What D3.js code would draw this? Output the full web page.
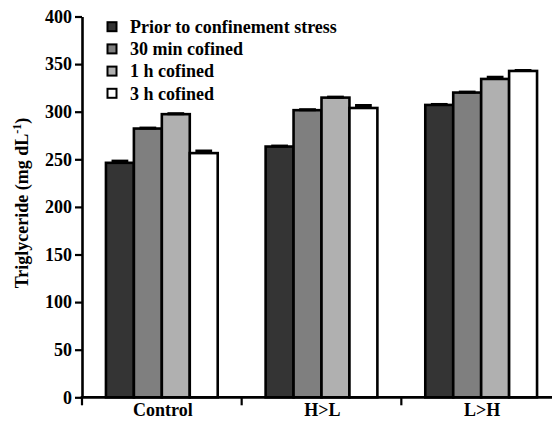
<!DOCTYPE html>
<html>
<head>
<meta charset="utf-8">
<script src="https://cdn.jsdelivr.net/npm/d3@7"></script>
<style>
  html, body { margin: 0; padding: 0; background: #fff; }
  svg { display: block; }
</style>
</head>
<body>
<svg id="chart" width="552" height="423"></svg>
<script>
const groups = ["Control", "H>L", "L>H"];
const seriesNames = ["Prior to confinement stress", "30 min cofined", "1 h cofined", "3 h cofined"];
const seriesColors = ["#343434", "#7f7f7f", "#b0b0b0", "#ffffff"];
const prior = [246.3, 263.4, 307.1];
const min30 = [282.3, 301.6, 320.1];
const h1 = [297.4, 314.8, 334.4];
const h3 = [256.5, 303.9, 342.8];
const errPrior = [1.8, 0.5, 0.5];
const errMin30 = [0.5, 0.5, 0.5];
const errH1 = [0.5, 0.5, 1.8];
const errH3 = [2.2, 2.6, 0.5];
const yTicks = [0, 50, 100, 150, 200, 250, 300, 350, 400];

const values = [prior, min30, h1, h3];
const errors = [errPrior, errMin30, errH1, errH3];

const svg = d3.select("#chart");

function styleText(sel, size) {
  return sel.style("font-family", '"Liberation Serif"')
    .style("font-size", size + "px").style("font-weight", "bold");
}

const x0 = 82, x1 = 561, yBottom = 397.3, yTop = 16.5;
const x = d3.scaleBand().domain(groups).range([x0, x1]).paddingInner(0.3).paddingOuter(0.15);
const xs = d3.scaleBand().domain(d3.range(seriesNames.length)).range([0, x.bandwidth()]).padding(0);
const y = d3.scaleLinear().domain([0, 400]).range([yBottom, yTop]);

// legend
const lg = svg.append("g");
seriesNames.forEach((n, i) => {
  const cy = 26.7 + i * 22.2;
  lg.append("rect").attr("x", 107.5).attr("y", cy - 4.5).attr("width", 9).attr("height", 9)
    .attr("fill", seriesColors[i]).attr("stroke", "#000").attr("stroke-width", 2);
  styleText(lg.append("text").attr("x", 130).attr("y", cy).attr("dy", "0.35em").text(n), 18);
});

// y axis
const yAxis = d3.axisLeft(y).tickValues(yTicks).tickSize(7).tickPadding(3).tickSizeOuter(0);
const ya = svg.append("g").attr("transform", `translate(${x0},0)`).call(yAxis);
ya.select(".domain").attr("stroke", "#000").attr("stroke-width", 2.6);
ya.selectAll(".tick line").attr("stroke", "#000").attr("stroke-width", 2.2);
styleText(ya.selectAll(".tick text"), 18);

// category labels
styleText(svg.append("g").selectAll("text").data(groups).join("text")
  .attr("x", d => x(d) + x.bandwidth() / 2 + 1)
  .attr("y", 416)
  .attr("text-anchor", "middle")
  .text(d => d), 18);

// bars
const data = [];
groups.forEach((g, gi) => {
  values.forEach((arr, si) => {
    data.push({ g, si, v: arr[gi], e: errors[si][gi] });
  });
});

svg.append("g").selectAll("rect").data(data).join("rect")
  .attr("x", d => x(d.g) + xs(d.si))
  .attr("y", d => y(d.v))
  .attr("width", xs.bandwidth())
  .attr("height", d => y(0) - y(d.v))
  .attr("fill", d => seriesColors[d.si])
  .attr("stroke", "#000")
  .attr("stroke-width", 2.6);

// error bars
const eg = svg.append("g");
data.forEach(d => {
  const cx = x(d.g) + xs(d.si) + xs.bandwidth() / 2;
  const hw = xs.bandwidth() * 0.3;
  eg.append("line").attr("x1", cx).attr("x2", cx).attr("y1", y(d.v)).attr("y2", y(d.v + d.e))
    .attr("stroke", "#000").attr("stroke-width", 2);
  eg.append("line").attr("x1", cx - hw).attr("x2", cx + hw).attr("y1", y(d.v + d.e)).attr("y2", y(d.v + d.e))
    .attr("stroke", "#000").attr("stroke-width", 3);
});

// x axis with boundary ticks
svg.append("line").attr("x1", x0 - 1.3).attr("x2", 552).attr("y1", yBottom).attr("y2", yBottom)
  .attr("stroke", "#000").attr("stroke-width", 2.8);
const boundaries = [x0].concat(groups.map(g => x(g) + x.bandwidth() + x.step() * x.paddingInner() / 2));
svg.append("g").selectAll("line").data(boundaries).join("line")
  .attr("x1", d => d).attr("x2", d => d).attr("y1", yBottom).attr("y2", yBottom + 8)
  .attr("stroke", "#000").attr("stroke-width", 2.2);

// y label
const yl = styleText(svg.append("text")
  .attr("transform", "translate(28,203) rotate(-90)")
  .attr("text-anchor", "middle"), 18);
yl.append("tspan").text("Triglyceride (mg dL");
yl.append("tspan").style("font-size", "12px").attr("dy", -7).text("-1");
yl.append("tspan").attr("dy", 7).text(")");
</script>
</body>
</html>
